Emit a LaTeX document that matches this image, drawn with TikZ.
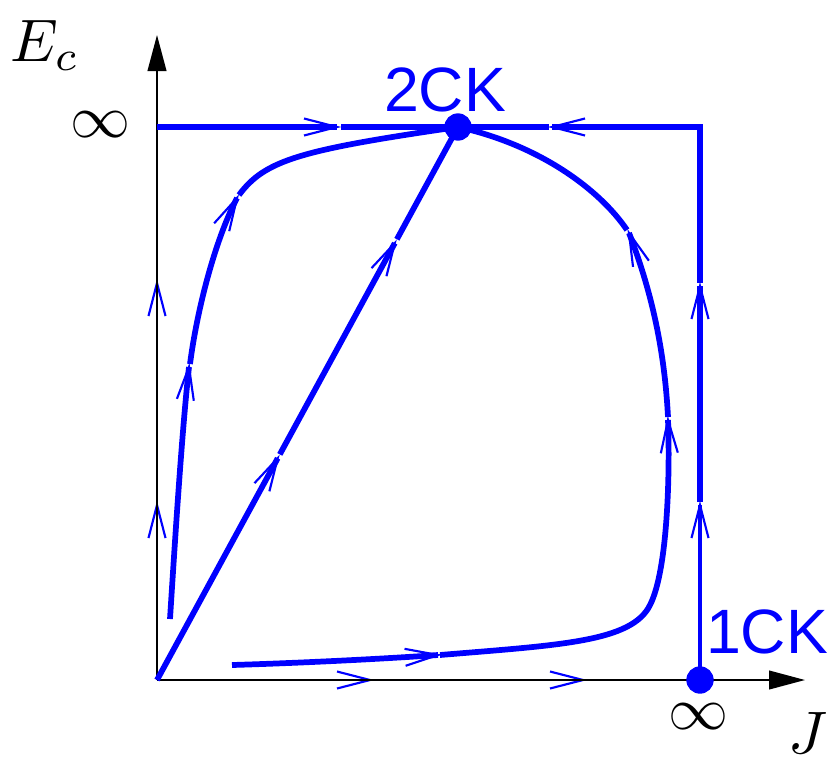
\documentclass[tikz,border=0pt]{standalone}
\usepackage{fontspec}
\setsansfont{Liberation Sans}
\usetikzlibrary{arrows.meta,decorations.markings,calc}
\begin{document}
\begin{tikzpicture}[x=0.75pt,y=-0.75pt,
 flow/.style={blue, line width=4.3pt, postaction={decorate},
   decoration={markings, mark=at position 1 with {\draw[blue, line width=1.6pt, line join=miter] (-33,-8.5) -- (0,0) -- (-33,8.5);}}},
 seg/.style={blue, line width=4.3pt},
 thinflow/.style={flow, line width=1.6pt},
 axis/.style={black, line width=1.5pt, -{Triangle[length=27pt,width=14pt]}},
 lab/.style={blue, font=\sffamily\fontsize{47}{47}\selectfont, inner sep=0pt},
 mlab/.style={inner sep=0pt},
 dot/.style={circle, fill=blue, inner sep=0pt, minimum size=20.5pt}]
\fill[white] (0,0) rectangle (831,764);
\useasboundingbox (0,0) rectangle (831,764);

\coordinate (O) at (157,680);
\coordinate (Ytip) at (157,35);
\coordinate (Xtip) at (805,680);
\coordinate (P2) at (458,127);
\coordinate (P1) at (700,680);
\coordinate (TL) at (157,127);
\coordinate (TR) at (700,127);

% thin blue flow marks along the axes
\draw[thinflow] (157,368) -- (157,283);
\draw[thinflow] (157,540) -- (157,505);
\draw[thinflow] (330,680) -- (370,680);
\draw[thinflow] (498,680) -- (583,680);

% axes
\draw[axis] (O) -- (Ytip);
\draw[axis] (O) -- (Xtip);

% top line
\draw[flow] (TL) -- (337,127);
\draw[seg] (341,127) -- (P2);

% right side from 1CK
\draw[flow, line width=3.3pt] (P1) -- (700,505);
\draw[flow] (700,502) -- (700,286);
\draw[flow] (700,283) -- (TR) -- (552,127);
\draw[seg] (549,127) -- (P2);

% diagonal
\draw[flow] (O) -- ($(O)!0.401!(P2)$);
\draw[flow] ($(O)!0.408!(P2)$) -- ($(O)!0.790!(P2)$);
\draw[seg] ($(O)!0.797!(P2)$) -- (P2);

% left curve
\draw[flow] (170,619) .. controls (175,540) and (182,430) .. (189,367);
\draw[flow] (190,364) .. controls (197,310) and (215,240) .. (237,198);
\draw[seg] (239,195) .. controls (265,160) and (300,150) .. (P2);

% bottom-right curve
\draw[flow] (232,665) .. controls (300,663) and (380,659) .. (438,655);
\draw[flow] (440,655) .. controls (560,645) and (632,642) .. (650,605) .. controls (668,570) and (670,470) .. (668,420);
\draw[flow] (668,417) .. controls (665,360) and (655,300) .. (629,233);
\draw[seg] (627,230) .. controls (600,190) and (540,145) .. (P2);

% fixed points
\node[dot] (n2) at (P2) {};
\node[dot] (n1) at (P1) {};

% labels
\node[lab] (l2) at (445,90) {2CK};
\node[lab] (l1) at (767,632) {1CK};
\node[mlab] (inf1) at (100,125) {\scalebox{4.5}{$\infty$}};
\node[mlab] (inf2) at (698,717) {\scalebox{4.5}{$\infty$}};
\node[mlab] (ec) at (45,45) {\scalebox{4.5}{$E_c$}};
\node[mlab] (jl) at (808,733) {\scalebox{4.5}{$J$}};
\end{tikzpicture}
\end{document}
